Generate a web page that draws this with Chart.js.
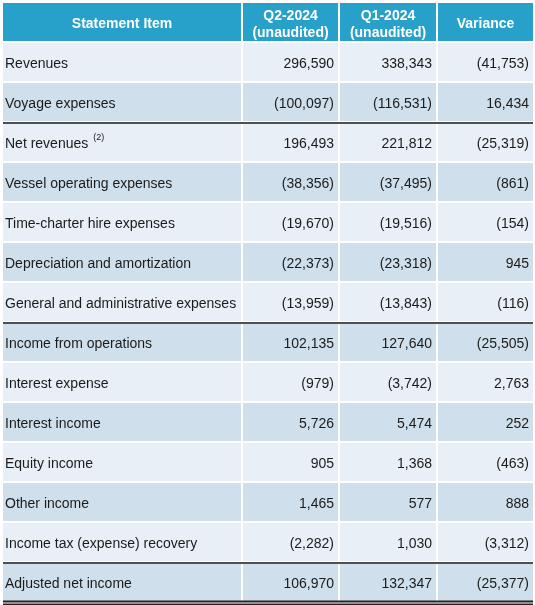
<!DOCTYPE html>
<html>
<head>
<meta charset="utf-8">
<script src="https://cdn.jsdelivr.net/npm/chart.js@4.4.1/dist/chart.umd.min.js"></script>
<style>
  html, body { margin: 0; padding: 0; background: #fff; }
  #tbl { display: block; }
</style>
</head>
<body>
<canvas id="tbl" width="535" height="605"></canvas>
<script>
// table content
const headers = [['Statement Item'], ['Q2-2024', '(unaudited)'], ['Q1-2024', '(unaudited)'], ['Variance']];
const rowLabels = [
  'Revenues', 'Voyage expenses', 'Net revenues', 'Vessel operating expenses',
  'Time-charter hire expenses', 'Depreciation and amortization',
  'General and administrative expenses', 'Income from operations',
  'Interest expense', 'Interest income', 'Equity income', 'Other income',
  'Income tax (expense) recovery', 'Adjusted net income'
];
const rowNotes = ['', '', '(2)', '', '', '', '', '', '', '', '', '', '', ''];
const q2_2024 = [296590, -100097, 196493, -38356, -19670, -22373, -13959, 102135, -979, 5726, 905, 1465, -2282, 106970];
const q1_2024 = [338343, -116531, 221812, -37495, -19516, -23318, -13843, 127640, -3742, 5474, 1368, 577, 1030, 132347];
const variance = [-41753, 16434, -25319, -861, -154, 945, -116, -25505, 2763, 252, -463, 888, -3312, -25377];

// layout
const colEdges = [[3, 241], [243, 338], [340, 436], [438, 533]];
const ruleAfter = [2, 7, 13];   // category index (0 = header)
const HEAD = '#27a1c9', LIGHT = '#e8eff6', DARK = '#cfdfeb';
const FONT = '"Liberation Sans", Arial, sans-serif';

const cats = ['header'].concat(rowLabels);
const rowColors = cats.map((c, i) => i === 0 ? HEAD : (i % 2 ? LIGHT : DARK));

function fmt(n) {
  const s = Math.abs(n).toLocaleString('en-US');
  return n < 0 ? '(' + s + ')' : s;
}

const cellText = [
  rowLabels,
  q2_2024.map(fmt),
  q1_2024.map(fmt),
  variance.map(fmt)
];

const datasets = colEdges.map((edge, j) => ({
  label: headers[j].join(' '),
  data: cats.map(() => edge),
  backgroundColor: rowColors,
  borderWidth: 0,
  grouped: false,
  barPercentage: 0.95,
  categoryPercentage: 1
}));

const tableText = {
  id: 'tableText',
  afterDatasetsDraw(chart) {
    const ctx = chart.ctx;
    const y = chart.scales.y;
    ctx.save();
    ctx.textBaseline = 'middle';
    chart.data.datasets.forEach((ds, j) => {
      const meta = chart.getDatasetMeta(j);
      meta.data.forEach((el, i) => {
        const left = Math.min(el.x, el.base), right = Math.max(el.x, el.base);
        const cy = el.y + 1.5;
        if (i === 0) {
          ctx.fillStyle = '#fff';
          ctx.font = 'bold 14px ' + FONT;
          ctx.textAlign = 'center';
          const lines = headers[j];
          if (lines.length === 1) ctx.fillText(lines[0], (left + right) / 2, cy + 1);
          else {
            ctx.fillText(lines[0], (left + right) / 2, cy - 7);
            ctx.fillText(lines[1], (left + right) / 2, cy + 10);
          }
          return;
        }
        ctx.fillStyle = '#1b1b1b';
        ctx.font = '14px ' + FONT;
        const txt = cellText[j][i - 1];
        if (j === 0) {
          ctx.textAlign = 'left';
          ctx.fillText(txt, left + 2, cy + 0.5);
          const note = rowNotes[i - 1];
          if (note) {
            const w = ctx.measureText(txt + ' ').width;
            ctx.font = '9px ' + FONT;
            ctx.fillText(note, left + 2 + w + 1, cy - 6);
          }
        } else {
          ctx.textAlign = 'right';
          ctx.fillText(txt, right - 4, cy + 0.5);
        }
      });
    });
    // horizontal rules
    const x0 = colEdges[0][0], x1 = colEdges[colEdges.length - 1][1];
    const mid = i => (y.getPixelForValue(i) + y.getPixelForValue(i + 1)) / 2;
    ctx.fillStyle = '#505050';
    ruleAfter.forEach(i => ctx.fillRect(x0, mid(i), x1 - x0, 2));
    const last = cats.length - 1;
    const bottom = y.getPixelForValue(last) + (y.getPixelForValue(last) - y.getPixelForValue(last - 1)) / 2;
    ctx.fillStyle = '#222';
    ctx.fillRect(x0, bottom - 1.5, x1 - x0, 2);
    ctx.fillRect(x0, bottom + 1.5, x1 - x0, 1.5);
    ctx.restore();
  }
};

new Chart(document.getElementById('tbl'), {
  type: 'bar',
  data: { labels: cats, datasets: datasets },
  options: {
    indexAxis: 'y',
    responsive: false,
    animation: false,
    devicePixelRatio: 1,
    layout: { padding: { top: 2, bottom: 3, left: 0, right: 0 } },
    plugins: { legend: { display: false }, tooltip: { enabled: false } },
    scales: {
      x: { type: 'linear', min: 0, max: 535, display: false },
      y: { type: 'category', display: false }
    }
  },
  plugins: [tableText]
});
</script>
</body>
</html>
